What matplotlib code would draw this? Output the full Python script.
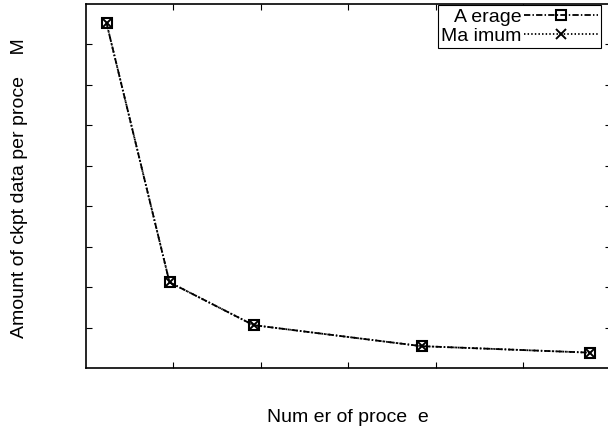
import matplotlib
matplotlib.use("Agg")
import matplotlib.pyplot as plt

plt.rcParams['font.family'] = ['Liberation Sans', 'DejaVu Sans']

processes = [12, 48, 96, 192, 288]
average = [853, 212, 106, 54, 38]
maximum = [853, 212, 106, 54, 38]
series_labels = ["A erage", "Ma imum"]
x_label = "Num er of proce  e"
y_label = "Amount of ckpt data per proce    M"

fig = plt.figure(figsize=(6.08, 4.29), dpi=100)
ax = fig.add_axes([85.5/608, 1-368/429, 525/608, 364/429])

ax.plot(processes, average, color='black', lw=1.3, dashes=(3.5, 1.2, 0.8, 1.2),
        marker='s', markersize=7, markerfacecolor='none', markeredgecolor='black',
        markeredgewidth=1.5, label=series_labels[0])
ax.plot(processes, maximum, color='black', lw=1.3, dashes=(0.8, 1.2),
        marker='x', markersize=6.5, markeredgecolor='black', markeredgewidth=1.4,
        label=series_labels[1])

ax.set_xlim(0, 300)
ax.set_ylim(0, 900)
ax.set_xticks([50, 100, 150, 200, 250])
ax.set_yticks([100, 200, 300, 400, 500, 600, 700, 800])
ax.tick_params(direction='in', length=4, width=0.8, top=True, right=True,
               labelbottom=False, labelleft=False)
for s in ax.spines.values():
    s.set_linewidth(1.2)

fs = 14
ax.set_xlabel(x_label, fontsize=fs)
ax.xaxis.set_label_coords(0.5, -(417 - 368) / 364, transform=ax.transAxes)
ax.xaxis.label.set_va('center')
ax.set_ylabel(y_label, fontsize=fs)
ax.yaxis.set_label_coords((20 - 85.5) / 525, (368 - 188) / 364, transform=ax.transAxes)
ax.yaxis.label.set_va('center')

leg = ax.legend(loc='upper right', markerfirst=False, fancybox=False, framealpha=1,
                edgecolor='black', fontsize=fs, handlelength=3.8, handletextpad=0.15,
                borderpad=0.15, labelspacing=0.1, borderaxespad=0.0,
                bbox_to_anchor=(601/608, 1-5/429), bbox_transform=fig.transFigure)
leg.get_frame().set_linewidth(0.8)

fig.savefig("out.png", dpi=100)
